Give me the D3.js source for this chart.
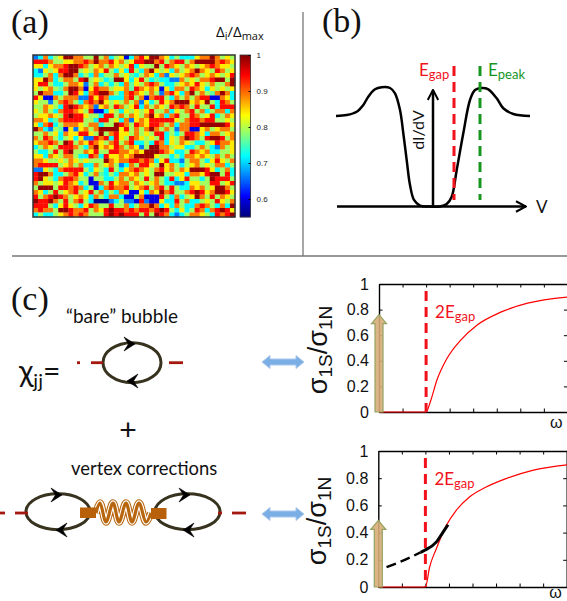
<!DOCTYPE html>
<html><head><meta charset="utf-8">
<script src="https://cdn.jsdelivr.net/npm/d3@7"></script>
<style>html,body{margin:0;padding:0;background:#fff}svg{display:block}</style>
</head><body><svg id="c" width="567" height="601"></svg>
<script>
// (a) gap map: each digit is an index into gapLevels
const gapLevels = [0.56,0.60,0.66,0.72,0.76,0.79,0.84,0.89,0.94,0.99];
const gapMapRows = [
"2373569977559573561378699763533367797565",
"8887556677879778675688997857885799997876",
"6636778998756757656836559587657656787665",
"3265688995657685363853796563756797658756",
"3357379973537355756435763726567875676568",
"6697357758956534996368534332275657789959",
"6885335776257353537465787533567686575579",
"6567547997168775667487676163775876365656",
"5977335986378997537876575278637957547973",
"8611757772286873337857178853757578811763",
"6552578753787965657572635867999676953875",
"5576538987672675875683757658787585583888",
"6575378876581136536565685573657857357737",
"5667658988655388575765796737855875683576",
"7763478888553885637267688888657887885565",
"6378357776577355987587688757377889999986",
"9732541626757999968575797575277116756775",
"5575637668865957866575658835358876377567",
"7587535636228783865876565836579875899857",
"6778759857687657857833538736576533568776",
"3576588875379676875762599775663357532756",
"5335858955768558877676999876335876733556",
"6637657753387386676799996553537767657575",
"7765565765655597677887873683325775368657",
"7888856757337567523758865967535675657735",
"2265378888536538536787657867576999863573",
"8997335786357435377675659955663776899583",
"8965378875515533575765857538368553598885",
"7566568763511758677576567533223665588568",
"5999588787351378778567857858533767569975",
"7635856785685735376116376978557898679986",
"8578987567637537731157111853735697585765",
"9889758578530002352218211633857335658657",
"8885368653687558557357797363753378753739",
"7877599877857689887878878985363587378986",
"3533567878755589898885859873235776538789"
];
const colorbarTicks = [0.6, 0.7, 0.8, 0.9, 1];

// (b) tunnelling spectrum, voltage vs dI/dV
const spectrumV = [-97.5,-86.8,-76.8,-70.2,-65.2,-58.5,-51.8,-43.5,-38.5,-33.5,-30.2,-26.8,-23.5,-19.5,-13.5,-5.2,6.5,13.2,18.2,23.2,29.8,36.5,41.5,48.2,54.8,63.2,69.8,79.8,96.5];
const spectrumG = [0.764,0.772,0.8,0.857,0.927,0.989,1.006,1,0.955,0.814,0.618,0.392,0.181,0.055,0.007,0,0,0.021,0.083,0.308,0.618,0.899,0.983,1,0.989,0.913,0.829,0.781,0.764];
const gapLineV = 20.5, peakLineV = 46.5;

// (c) optical conductivity ratio
const omegaTicks = [1,2,3,4,5,6,7];
const sigmaTicks = [0,0.2,0.4,0.6,0.8,1];
const omegaTop = [0,2,2.18,2.46,2.89,3.46,4.17,5.17,6.31,8.1];
const sigmaTop = [0,0,0.08,0.25,0.42,0.56,0.68,0.78,0.85,0.9];
const omegaBot = [0,2,2.18,2.46,2.89,3.31,3.87,4.58,5.42,6.55,8.1];
const sigmaBot = [0,0,0.147,0.28,0.453,0.564,0.662,0.735,0.797,0.858,0.9];
const omegaVertexDash = [0.35,0.92,1.48,1.8];
const sigmaVertexDash = [0.147,0.184,0.228,0.255];
const omegaVertex = [1.8,1.97,2.46,2.75,2.96];
const sigmaVertex = [0.255,0.27,0.33,0.404,0.458];
const deltaWeightTop = 0.76, deltaWeightBot = 0.49, gapOmega = 2;

const svg = d3.select("#c");
const SANS = "Lato, 'Open Sans', sans-serif", ARIAL = "'Liberation Sans', Arial, sans-serif", SERIF = "'Liberation Serif', serif";
const RED = "#f2121c", GREEN = "#17951f";

function label(x, y, str, size, opts = {}) {
  return svg.append("text").attr("x", x).attr("y", y).attr("font-size", size)
    .attr("font-family", opts.font || SANS).attr("fill", opts.fill || "#111")
    .attr("text-anchor", opts.anchor || "start").attr("transform", opts.rot ? `rotate(${opts.rot} ${x} ${y})` : null).text(str);
}
function sub(t, base, s, size, dy) {
  t.text(null);
  t.append("tspan").text(base);
  t.append("tspan").attr("font-size", size).attr("dy", dy).text(s);
  return t;
}

label(11, 33, "(a)", 34, {font: SERIF});
label(322, 32, "(b)", 34, {font: SERIF});
label(11, 310, "(c)", 34, {font: SERIF});

// dividers
svg.append("line").attr("x1", 303).attr("x2", 303).attr("y1", 12).attr("y2", 256).attr("stroke", "#777").attr("stroke-width", 1.3);
svg.append("line").attr("x1", 12).attr("x2", 567).attr("y1", 256).attr("y2", 256).attr("stroke", "#777").attr("stroke-width", 1.3);

// ----- (a)
const jet = d3.scaleLinear()
  .domain([0, .11, .125, .375, .625, .875, 1])
  .range(["#00007f","#0000e0","#0000ff","#00ffff","#ffff00","#ff0000","#7f0000"]);
const valueToT = d3.scaleLinear().domain([0.55, 1]).range([0, 1]);
const color = v => jet(valueToT(v));
const mapX = d3.scaleBand().domain(d3.range(40)).range([33, 235]);
const mapY = d3.scaleBand().domain(d3.range(gapMapRows.length)).range([55, 217]);
const cells = gapMapRows.flatMap((r, i) => Array.from(r).map((d, j) => ({i, j, v: gapLevels[+d]})));
svg.append("g").style("filter", "blur(0.35px)").selectAll("rect").data(cells).join("rect")
  .attr("x", d => mapX(d.j)).attr("y", d => mapY(d.i))
  .attr("width", mapX.bandwidth() + .3).attr("height", mapY.bandwidth() + .3)
  .attr("fill", d => color(d.v));
svg.append("rect").attr("x", 33).attr("y", 55).attr("width", 202).attr("height", 162)
  .attr("fill", "none").attr("stroke", "#333").attr("stroke-width", 1.5);

const barY = d3.scaleLinear().domain([0.55, 1]).range([217, 55]);
svg.append("g").selectAll("rect").data(d3.range(0.55, 1.0, 0.45 / 162)).join("rect")
  .attr("x", 240).attr("width", 10.5).attr("y", d => barY(d) - 1).attr("height", 1.3).attr("fill", d => color(d));
svg.append("rect").attr("x", 240).attr("y", 55).attr("width", 10.5).attr("height", 162)
  .attr("fill", "none").attr("stroke", "#333").attr("stroke-width", .8);
const barAxis = svg.append("g").attr("transform", "translate(250.5,0)")
  .call(d3.axisRight(barY).tickValues(colorbarTicks).tickSize(-2).tickPadding(6).tickFormat(d3.format("~g")));
barAxis.select(".domain").remove();
barAxis.selectAll("text").attr("font-family", ARIAL).attr("font-size", 8).attr("fill", "#222");
const dTxt = label(216, 37, "", 15, {font: "'Open Sans', sans-serif"});
dTxt.append("tspan").text("Δ");
dTxt.append("tspan").attr("font-size", 11).attr("dy", 3).text("i");
dTxt.append("tspan").attr("dy", -3).text("/Δ");
dTxt.append("tspan").attr("font-size", 11).attr("dy", 3).text("max");

// ----- (b)
const bx = d3.scaleLinear().domain([-100, 100]).range([333.5, 533.5]);
const by = d3.scaleLinear().domain([0, 1]).range([206.5, 88]);
svg.append("defs").html(`
 <marker id="ah" viewBox="0 0 10 10" refX="9" refY="5" markerWidth="5" markerHeight="5" orient="auto" markerUnits="strokeWidth">
 <path d="M1,0.8 L9,5 L1,9.2" fill="none" stroke="#000" stroke-width="1.6"/></marker>`);
const specLine = d3.line().x(d => bx(d[0])).y(d => by(d[1])).curve(d3.curveCatmullRom.alpha(.5));
svg.append("path").attr("d", specLine(d3.zip(spectrumV, spectrumG))).attr("fill", "none").attr("stroke", "#000").attr("stroke-width", 2.5);
svg.append("line").attr("x1", 337).attr("x2", 526).attr("y1", 206.5).attr("y2", 206.5).attr("stroke", "#000").attr("stroke-width", 2.5).attr("marker-end", "url(#ah)");
svg.append("line").attr("x1", 433).attr("x2", 433).attr("y1", 206.5).attr("y2", 90).attr("stroke", "#000").attr("stroke-width", 2.5).attr("marker-end", "url(#ah)");
[[gapLineV, RED], [peakLineV, GREEN]].forEach(([v, c]) => {
  svg.append("line").attr("x1", bx(v)).attr("x2", bx(v)).attr("y1", 66).attr("y2", 200)
    .attr("stroke", c).attr("stroke-width", 3).attr("stroke-dasharray", "10 6");
});
sub(label(419, 76, "", 17, {fill: RED}), "E", "gap", 13, 3);
sub(label(488, 76, "", 17, {fill: GREEN}), "E", "peak", 13, 3);
label(424, 130, "dI/dV", 16, {rot: -90, anchor: "middle"});
label(536, 213, "V", 17);

// ----- (c) right-hand plots
function sigmaPlot(top, bottom, left, omegas, sigmas, weight, vertex, omegaY) {
  const x = d3.scaleLinear().domain([0, 8]).range([left, left + 23.55 * 8]);
  const y = d3.scaleLinear().domain([0, 1]).range([bottom, top]);
  const g = svg.append("g");
  const st = s => { s.select(".domain").attr("stroke-width", 1.4).attr("stroke", "#000");
    s.selectAll(".tick line").attr("stroke", "#000").attr("stroke-width", 1); };
  g.append("g").attr("transform", `translate(0,${bottom})`).call(d3.axisBottom(x).tickValues(omegaTicks).tickSizeInner(-3.5).tickSizeOuter(0).tickFormat("")).call(st);
  g.append("g").attr("transform", `translate(0,${top})`).call(d3.axisTop(x).tickValues(omegaTicks).tickSizeInner(-3.5).tickSizeOuter(0).tickFormat("")).call(st);
  const ya = g.append("g").attr("transform", `translate(${left},0)`)
    .call(d3.axisLeft(y).tickValues(sigmaTicks).tickSizeInner(-3.5).tickSizeOuter(0).tickPadding(10).tickFormat(d3.format("~g"))).call(st);
  ya.selectAll("text").attr("font-family", ARIAL).attr("font-size", 16).attr("fill", "#111");
  g.append("g").attr("transform", `translate(${x(8)},0)`)
    .call(d3.axisRight(y).tickValues(sigmaTicks).tickSizeInner(-3.5).tickSizeOuter(0).tickFormat("")).call(st);

  const smooth = d3.line().x(d => x(d[0])).y(d => y(d[1])).curve(d3.curveMonotoneX);
  g.append("path").attr("d", smooth(d3.zip(omegas, sigmas))).attr("fill", "none").attr("stroke", "#f00").attr("stroke-width", 1.2);
  g.append("line").attr("x1", x(gapOmega)).attr("x2", x(gapOmega)).attr("y1", top + 7).attr("y2", bottom)
    .attr("stroke", RED).attr("stroke-width", 3).attr("stroke-dasharray", "10 6");
  sub(label(x(gapOmega) + 9, top + 34, "", 17, {fill: RED}), "2E", "gap", 13, 3);

  if (vertex) {
    g.append("path").attr("d", smooth(d3.zip(omegaVertexDash, sigmaVertexDash))).attr("fill", "none")
      .attr("stroke", "#000").attr("stroke-width", 2.4).attr("stroke-dasharray", "10 5");
    g.append("path").attr("d", smooth(d3.zip(omegaVertex, sigmaVertex))).attr("fill", "none")
      .attr("stroke", "#000").attr("stroke-width", 3);
  }
  // coherent peak arrow
  const x0 = x(0), yb = y(0), yt = y(weight);
  g.append("path").attr("d", `M${x0-4},${yb}V${yt+9}H${x0-7.5}L${x0},${yt}L${x0+7.5},${yt+9}H${x0+4}V${yb}Z`)
    .attr("fill", "#d8ad7a").attr("fill-opacity", .9).attr("stroke", "#93a35f").attr("stroke-width", 1.2);
  label(left + 171, omegaY, "ω", 16, {font: ARIAL});
  const t = label(left - 52, (top + bottom) / 2 + 2, "", 27, {rot: -90, anchor: "middle", font: ARIAL});
  t.append("tspan").text("σ");
  t.append("tspan").attr("font-size", 19).attr("dy", 5).text("1S");
  t.append("tspan").attr("dy", -5).text("/σ");
  t.append("tspan").attr("font-size", 19).attr("dy", 5).text("1N");
}
sigmaPlot(284, 412, 379, omegaTop, sigmaTop, deltaWeightTop, false, 428);
sigmaPlot(451, 587, 378.3, omegaBot, sigmaBot, deltaWeightBot, true, 598);

// ----- (c) diagrams
const DASH = "#a4190f", LOOP = "#38331f";
function loop(cx, cy, rx, ry) {
  svg.append("ellipse").attr("cx", cx).attr("cy", cy).attr("rx", rx).attr("ry", ry).attr("fill", "none").attr("stroke", LOOP).attr("stroke-width", 3);
}
function chevron(x, y, dir) {
  svg.append("path").attr("transform", `translate(${x},${y}) scale(${dir},1)`).attr("d", "M-6,-7 L5,0 L-6,7 L-1.5,0 Z").attr("fill", "#000").attr("stroke", "#000").attr("stroke-width", .6);
}
function dash(x1, x2, y) {
  svg.append("line").attr("x1", x1).attr("x2", x2).attr("y1", y).attr("y2", y).attr("stroke", DASH).attr("stroke-width", 2.8);
}
function dblArrow(x1, x2, y) {
  svg.append("path").attr("d", `M${x1},${y}L${x1+8},${y-6.5}V${y-3}H${x2-8}V${y-6.5}L${x2},${y}L${x2-8},${y+6.5}V${y+3}H${x1+8}V${y+6.5}Z`)
    .attr("fill", "#7caee6").attr("stroke", "#a9c8ec").attr("stroke-width", 1);
}
label(66, 323, "“bare” bubble", 19);
const chi = label(19, 382, "", 30);
chi.append("tspan").text("χ");
chi.append("tspan").attr("font-size", 20).attr("dy", 6).text("jj");
chi.append("tspan").attr("dy", -6).text("=");
loop(132, 362.7, 29, 20);
chevron(130, 344, 1); chevron(132, 381, -1);
dash(77, 80, 362.7); dash(91, 103, 362.7); dash(169, 183, 362.7);
dblArrow(262, 304, 362);
label(128, 440, "+", 30, {anchor: "middle", font: ARIAL});

label(71, 475, "vertex corrections", 18.4);
loop(58, 511.7, 32, 18);
loop(187.5, 511.7, 32.5, 18);
chevron(57, 495, 1); chevron(61, 530, -1); chevron(185, 495, 1); chevron(188, 530, -1);
dash(0, 5, 513); dash(15, 28, 513); dash(218, 222, 513); dash(232, 246, 513);
dblArrow(262, 304, 514);

// interaction line (wavy boson)
const waveX = [96,100,106,113,119,126,132,139,146,151];
const waveY = [513,503,522,503,522,503,522,503,522,513];
const wave = d3.line().x((d,i)=>waveX[i]).y((d,i)=>waveY[i]).curve(d3.curveCatmullRom.alpha(0.5))(waveX);
[[7.5,"#b8660d"],[5.4,"#fff"],[3.2,"#b8660d"]].forEach(([w,c]) => {
  svg.append("path").attr("d", wave).attr("fill","none").attr("stroke",c).attr("stroke-width",w);
});
[[80,507.5,16,10.5],[151,508,15.5,11]].forEach(([x,y,w,h]) => {
  svg.append("rect").attr("x",x).attr("y",y).attr("width",w).attr("height",h).attr("fill","#b8610a");
});
</script></body></html>
